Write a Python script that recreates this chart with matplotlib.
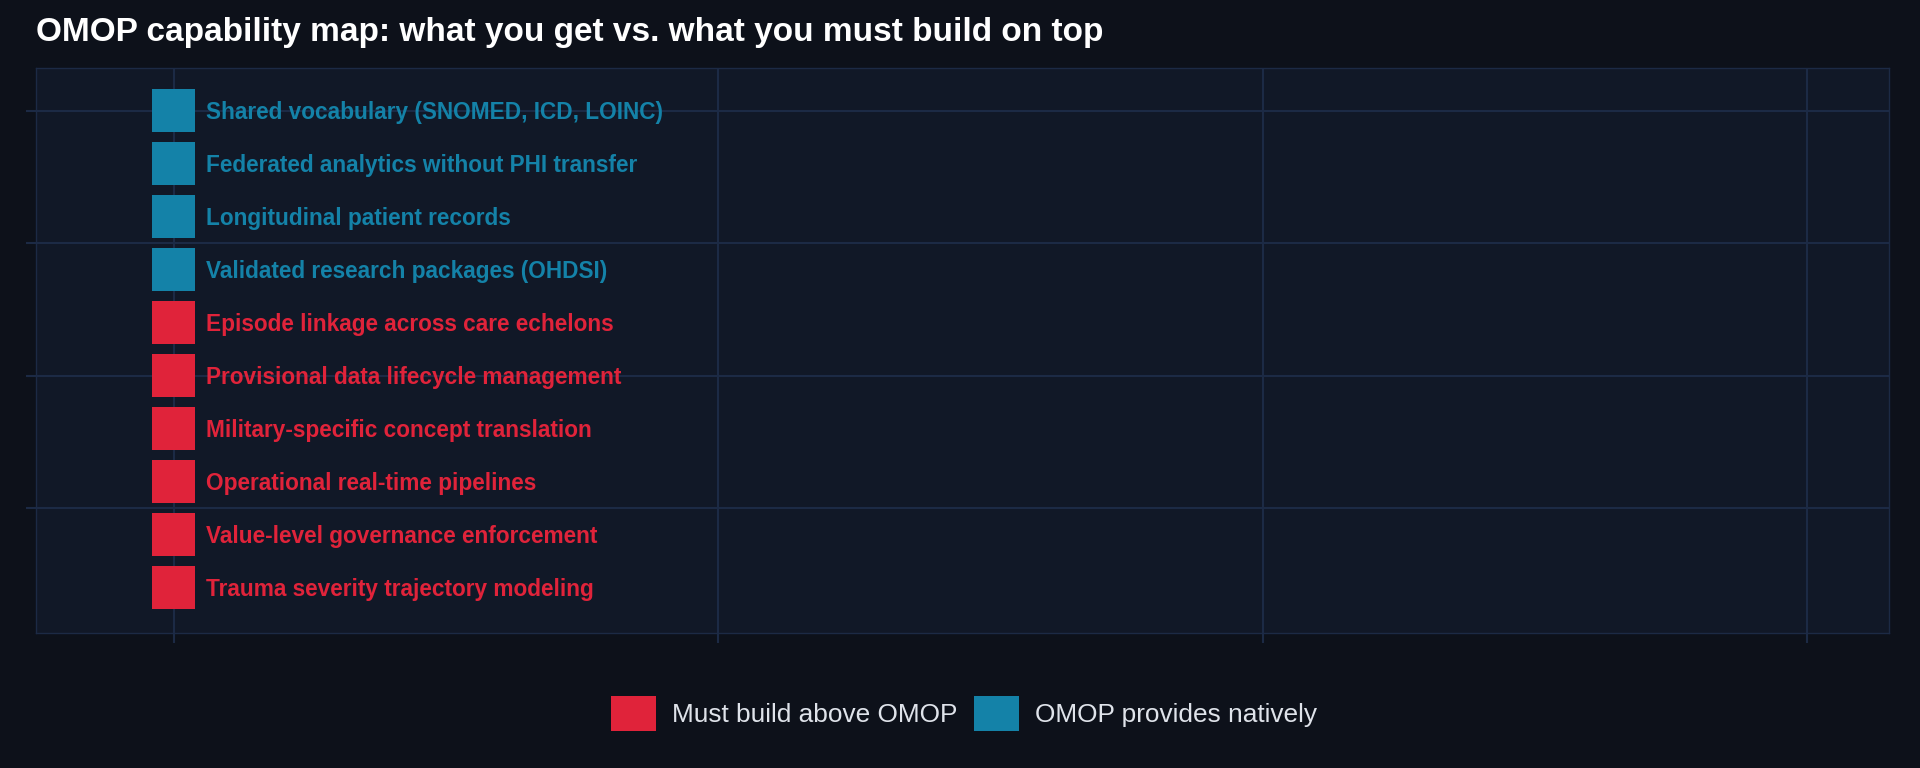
import numpy as np
import matplotlib.pyplot as plt
from matplotlib.patches import Patch

# capabilities, top to bottom
capabilities = [
    'Shared vocabulary (SNOMED, ICD, LOINC)',
    'Federated analytics without PHI transfer',
    'Longitudinal patient records',
    'Validated research packages (OHDSI)',
    'Episode linkage across care echelons',
    'Provisional data lifecycle management',
    'Military-specific concept translation',
    'Operational real-time pipelines',
    'Value-level governance enforcement',
    'Trauma severity trajectory modeling',
]
# 1 = OMOP provides natively, 0 = must build above OMOP
native = [1, 1, 1, 1, 0, 0, 0, 0, 0, 0]
x_pos = [0] * len(capabilities)
y_pos = list(range(len(capabilities)))

legend_labels = ['Must build above OMOP', 'OMOP provides natively']

# colours
bg_fig = '#0d111a'
bg_ax = '#111827'
grid_col = '#1c2a45'
red = '#e0233a'
teal = '#1482a8'
text_col = '#dfe3ea'

plt.rcParams['font.family'] = ['Liberation Sans', 'DejaVu Sans']

fig = plt.figure(figsize=(19.2, 7.68), dpi=100, facecolor=bg_fig)
ax = fig.add_axes([0.0185, 0.176, 0.9655, 0.736])
ax.set_facecolor(bg_ax)

colors = [teal if n else red for n in native]
ax.scatter(x_pos, y_pos, marker='s', s=958, c=colors, linewidths=0, zorder=3)

for x, y, lab, c in zip(x_pos, y_pos, capabilities, colors):
    ax.annotate(lab, (x, y), xytext=(23.3, -1.5), textcoords='offset points',
                va='center', ha='left', color=c, fontsize=16.3,
                fontweight='bold', zorder=4)

ax.set_xlim(-0.254, 3.151)
ax.set_ylim(9.85, -0.81)
ax.set_xticks([0, 1, 2, 3])
ax.set_yticks([0, 2.5, 5, 7.5])
ax.set_xticklabels([])
ax.set_yticklabels([])
ax.tick_params(colors=grid_col, length=7, width=1.5)
ax.grid(True, color=grid_col, linewidth=1.5, zorder=0)
for sp in ax.spines.values():
    sp.set_color(grid_col)
    sp.set_linewidth(1)

fig.text(0.0185, 0.958, 'OMOP capability map: what you get vs. what you must build on top',
         color='white', fontsize=24, fontweight='bold', ha='left', va='center')

handles = [Patch(facecolor=red, edgecolor='none'), Patch(facecolor=teal, edgecolor='none')]
fig.legend(handles, legend_labels, loc='center', bbox_to_anchor=(0.502, 0.071), ncol=2,
           frameon=False, fontsize=18.9, labelcolor=text_col,
           handlelength=1.71, handleheight=1.71, handletextpad=0.61, columnspacing=0.65)

fig.savefig('out.png', dpi=100, facecolor=bg_fig)
